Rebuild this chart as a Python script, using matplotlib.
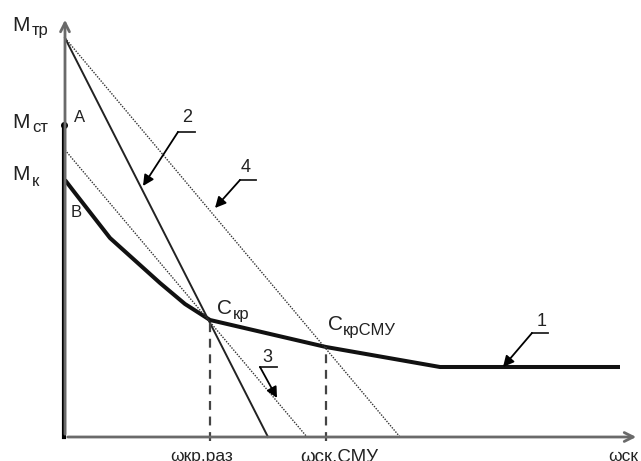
import numpy as np
import matplotlib.pyplot as plt

plt.rcParams['font.family'] = ['Liberation Sans', 'DejaVu Sans']

# torque levels on the M axis
M_tr = 39.9
M_st = 31.2
M_k = 25.7

# curve 1: load characteristic (omega, M)
w_1 = [0.0, 1.0, 4.5, 9.5, 12.0, 14.5, 26.1, 37.5, 55.5]
M_1 = [25.7, 24.4, 19.9, 15.4, 13.3, 11.7, 9.0, 7.0, 7.0]

# straight characteristics: start torque and zero-torque speed
M0_2, w0_2 = 39.9, 20.3
M0_3, w0_3 = 28.7, 24.2
M0_4, w0_4 = 39.9, 33.5

# operating points
w_kr = 14.5
w_smu = 26.1

fig = plt.figure(figsize=(6.41, 4.61), dpi=100)
ax = fig.add_axes([0, 0, 1, 1])
ax.set_xlim(-6.5, 57.6)
ax.set_ylim(-2.4, 43.7)
ax.axis('off')

axis_col = '#6a6a6a'
# axes with arrows
ax.annotate('', xy=(57.4, 0), xytext=(0, 0),
            arrowprops=dict(arrowstyle='->', color=axis_col, lw=2, mutation_scale=16))
ax.annotate('', xy=(0, 42.0), xytext=(0, 0),
            arrowprops=dict(arrowstyle='->', color=axis_col, lw=2, mutation_scale=16))

# thick vertical from M_st
ax.plot([-0.15, -0.15], [0, M_st], color='k', lw=3)
ax.plot([-0.15], [M_st], 'o', color='k', ms=4)

# curve 1
ax.plot(w_1, M_1, color='#111111', lw=2.9, solid_capstyle='butt', solid_joinstyle='round')

# line 2
ax.plot([0, w0_2], [M0_2, 0], color='#222222', lw=1.4)
# dotted lines 3 and 4
ax.plot([0, w0_3], [M0_3, 0], color='#333333', lw=1.0, linestyle=(0, (1, 1)))
ax.plot([0, w0_4], [M0_4, 0], color='#333333', lw=1.0, linestyle=(0, (1, 1)))

# dashed projections of the operating points
M_at_kr = np.interp(w_kr, w_1, M_1)
M_at_smu = np.interp(w_smu, w_1, M_1)
ax.plot([w_kr, w_kr], [-0.4, M_at_kr], color='#444444', lw=1.6, linestyle=(0, (4, 3)))
ax.plot([w_smu, w_smu], [-0.4, M_at_smu], color='#444444', lw=1.6, linestyle=(0, (4, 3)))

tk = dict(color='#222222')
# axis labels
ax.text(-5.3, 41.1, 'M', fontsize=15, ha='left', va='center', **tk)
ax.text(-3.3, 40.6, 'тр', fontsize=12, ha='left', va='center', **tk)
ax.text(-5.3, 31.4, 'M', fontsize=15, ha='left', va='center', **tk)
ax.text(-3.3, 30.9, 'ст', fontsize=12, ha='left', va='center', **tk)
ax.text(-5.3, 26.3, 'M', fontsize=15, ha='left', va='center', **tk)
ax.text(-3.3, 25.5, 'к', fontsize=12, ha='left', va='center', **tk)
ax.text(1.5, 32.0, 'A', fontsize=12, ha='center', va='center', **tk)
ax.text(1.1, 22.5, 'B', fontsize=12, ha='center', va='center', **tk)

ax.text(15.2, 12.9, 'C', fontsize=15, ha='left', va='center', **tk)
ax.text(16.8, 12.2, 'кр', fontsize=12, ha='left', va='center', **tk)
ax.text(26.3, 11.2, 'C', fontsize=15, ha='left', va='center', **tk)
ax.text(27.8, 10.6, 'крСМУ', fontsize=12, ha='left', va='center', **tk)

# speed labels under the axis (partly below the lower edge)
ax.text(10.5, -1.2, 'ωкр.раз', fontsize=12.5, ha='left', va='top', **tk)
ax.text(23.5, -1.2, 'ωск.СМУ', fontsize=13.5, ha='left', va='top', **tk)
ax.text(54.3, -1.2, 'ωск', fontsize=12.5, ha='left', va='top', **tk)

# numbered leaders: (label, text pos, underline x0, x1, y, arrow tip)
leaders = [
    ('1', (47.7, 11.6), 46.7, 48.3, 10.4, (43.8, 7.0)),
    ('2', (12.2, 31.9), 11.3, 13.0, 30.5, (7.8, 25.1)),
    ('3', (20.2, 8.0), 19.5, 21.2, 7.0, (21.2, 3.9)),
    ('4', (18.1, 26.9), 17.5, 19.1, 25.7, (15.0, 22.9)),
]
for lab, tpos, x0, x1, yl, tip in leaders:
    ax.text(tpos[0], tpos[1], lab, fontsize=13, ha='center', va='center', **tk)
    ax.plot([x0, x1], [yl, yl], color='#222222', lw=1.3)
    ax.annotate('', xy=tip, xytext=(x0, yl),
                arrowprops=dict(arrowstyle='-|>', color='k', lw=1.3, mutation_scale=16,
                                shrinkA=0, shrinkB=0))

fig.savefig('out.png', dpi=100)
